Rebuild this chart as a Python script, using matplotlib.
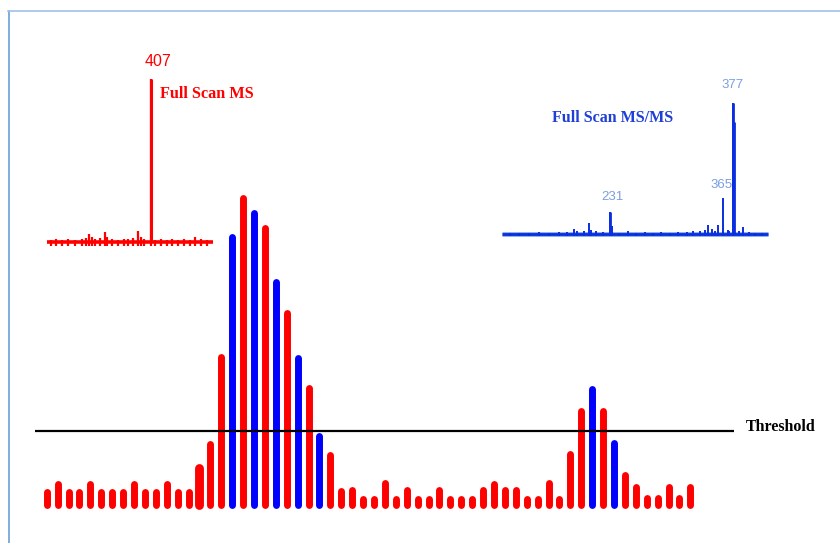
import matplotlib
matplotlib.use("Agg")
import matplotlib.pyplot as plt
from matplotlib.lines import Line2D

# Cromatograma: altura de cada scan (unidades ~ pixel) e tipo de scan
heights = [20, 28, 20, 20, 28, 20, 20, 20, 28, 20, 20, 28, 20, 20, 44,
           68, 155, 275, 314, 299, 284, 230, 199, 154, 124, 76, 57, 21, 22, 13,
           13, 29, 13, 22, 13, 13, 22, 13, 13, 13, 22, 28, 22, 22, 13,
           13, 29, 13, 58, 101, 123, 101, 69, 37, 25, 14, 14, 25, 14, 25]
msms_scans = [17, 19, 21, 23, 25, 50, 52]   # indices (0-based) dos scans MS/MS
threshold = 77

# Espectro Full Scan MS (m/z, intensidade %)
ms_mz = [160, 172, 188, 203, 219, 236, 248, 255, 262, 270, 281, 294, 300, 311, 326,
         340, 352, 364, 376, 383, 390, 407, 418, 432, 446, 460, 474, 488, 503, 517, 530, 545]
ms_int = [1.5, 2, 1.5, 2, 1.5, 2, 2.5, 5, 3, 2, 2.5, 6, 3, 2, 1.5,
          2, 2, 2.5, 6.5, 3, 2, 100, 1.5, 2, 1.5, 2, 1.5, 2, 1.5, 3, 2, 1.5]

# Espectro Full Scan MS/MS
msms_mz = [112, 122, 134, 146, 158, 170, 180, 188, 192, 200, 206, 208, 214, 222, 231, 233,
           242, 252, 262, 272, 282, 292, 302, 312, 322, 330, 338, 344, 348, 352, 356, 360,
           365, 371, 373, 377, 378, 379, 384, 389, 396, 404, 412]
msms_int = [0.8, 1, 0.8, 1.2, 0.8, 1.5, 1.2, 4, 2, 2.5, 8.4, 3, 2, 1.5, 17, 6,
            1, 2, 1, 1.5, 1, 1.2, 1, 1.5, 1.2, 2, 2.5, 3, 7, 4, 2, 7,
            27.8, 3, 2, 100, 86, 13, 2, 5, 1.5, 1, 0.8]

RED = '#ff0000'
BLUE = '#0000ff'

fig = plt.figure(figsize=(8.4, 5.43), dpi=100)
ax = fig.add_axes([0, 0, 1, 1])

# escala: 1 unidade de intensidade = 1 px; scans espaçados ~10.9 px
step = 10.91
x0 = 46.7
ax.set_xlim(-x0 / step, (840 - x0) / step)
ax.set_ylim(-35, 508)
ax.axis('off')

bar_lw = 5.0  # pontos (~7 px)
cap = 3.5     # meio traço em px
for i, h in enumerate(heights):
    color = BLUE if i in msms_scans else RED
    lw = 6.4 if i == 14 else bar_lw
    ax.vlines(i, cap, h - cap, color=color, linewidth=lw, capstyle='round')

ax.hlines(threshold, (35 - x0) / step, (734 - x0) / step, color='black', linewidth=1.6)
ax.text((746 - x0) / step, threshold + 4, 'Threshold', family='Liberation Serif',
        fontweight='bold', fontsize=11.5, ha='left', va='center', color='black')

# --- inset Full Scan MS ---
px_red = 162.7 / 100  # px por %
axr = fig.add_axes([44 / 840, (543 - 250) / 543, (215 - 44) / 840, (250 - 70) / 543])
axr.set_xlim(150 - 2.7 * 410 / 166, 560 + 2.3 * 410 / 166)
axr.set_ylim(-8 / px_red, (250 - 70 - 8) / px_red)
axr.axis('off')
axr.hlines(0, 150, 560, color=RED, linewidth=2.6)
axr.vlines(ms_mz, -2.4, ms_int, color=RED, linewidth=1.6)
axr.vlines(407, 0, 100, color=RED, linewidth=2.2)
axr.annotate('407', xy=(407, 100), xytext=(5.3, 12.7), textcoords='offset points',
             ha='center', va='center', color=RED, fontsize=11.5, family='Liberation Sans')
axr.annotate('Full Scan MS', xy=(407, 100), xytext=(6.7, -10.6), textcoords='offset points',
             ha='left', va='center', color=RED, fontsize=11.7, fontweight='bold',
             family='Liberation Serif')

# --- inset Full Scan MS/MS ---
px_blue = 130.7 / 100
mz_per_px = 1.19
axb = fig.add_axes([498 / 840, (543 - 242) / 543, (772 - 498) / 840, (242 - 70) / 543])
axb.set_xlim(102 - 3.7 * mz_per_px, 419 + 4 * mz_per_px)
axb.set_ylim(-8 / px_blue, (242 - 70 - 8) / px_blue)
axb.axis('off')
axb.hlines(0, 102, 419, color='#7fa8e0', linewidth=3.4)
axb.hlines(0, 102, 419, color='#0a2ee0', linewidth=2.0)
axb.vlines(msms_mz, -1.8, msms_int, color='#0a2ee0', linewidth=1.4)
axb.vlines([231, 377, 378], 0, [17, 100, 86], color='#0a2ee0', linewidth=2.0)
label_color = '#7a9ee2'
axb.annotate('377', xy=(377, 100), xytext=(0, 13.2), textcoords='offset points',
             ha='center', va='center', color=label_color, fontsize=9.5, family='Liberation Sans')
axb.annotate('365', xy=(365, 27.8), xytext=(-0.5, 9.1), textcoords='offset points',
             ha='center', va='center', color=label_color, fontsize=9.5, family='Liberation Sans')
axb.annotate('231', xy=(231, 17), xytext=(1.4, 10.8), textcoords='offset points',
             ha='center', va='center', color=label_color, fontsize=9.5, family='Liberation Sans')
axb.text(161.5, 88.5, 'Full Scan MS/MS', ha='left', va='center', color='#1f3fd6',
         fontsize=11.5, fontweight='bold', family='Liberation Serif')

# moldura azul clara (topo e esquerda)
fig.add_artist(Line2D([8.5 / 840, 8.5 / 840], [0, 1 - 11 / 543], color='#6a9fd4',
                      linewidth=1.2, transform=fig.transFigure))
fig.add_artist(Line2D([8 / 840, 1], [1 - 11 / 543, 1 - 11 / 543], color='#a0c4e4',
                      linewidth=1.2, transform=fig.transFigure))

fig.savefig('out.png', dpi=100, facecolor='white')
